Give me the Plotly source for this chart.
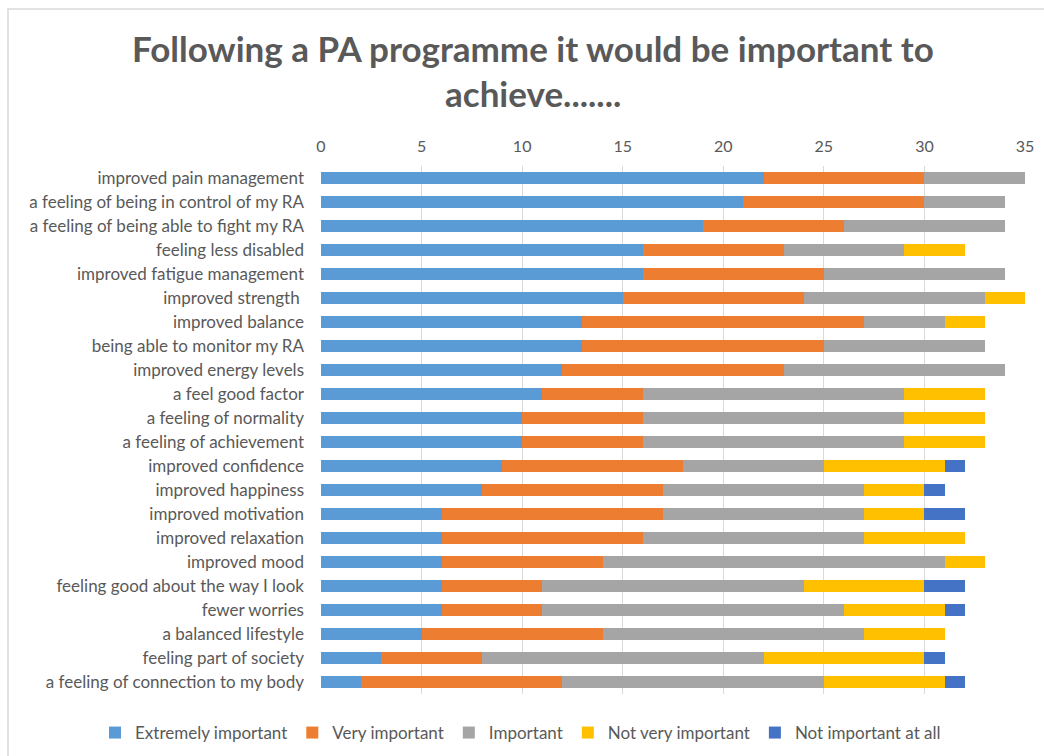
import plotly.graph_objects as go

categories = [
    "improved pain management",
    "a feeling of being in control of my RA",
    "a feeling of being able to fight my RA",
    "feeling less disabled",
    "improved fatigue management",
    "improved strength ",
    "improved balance",
    "being able to monitor my RA",
    "improved energy levels",
    "a feel good factor",
    "a feeling of normality",
    "a feeling of achievement",
    "improved confidence",
    "improved happiness",
    "improved motivation",
    "improved relaxation",
    "improved mood",
    "feeling good about the way I look",
    "fewer worries",
    "a balanced lifestyle",
    "feeling part of society",
    "a feeling of connection to my body",
]

extremely_important = [22, 21, 19, 16, 16, 15, 13, 13, 12, 11, 10, 10, 9, 8, 6, 6, 6, 6, 6, 5, 3, 2]
very_important      = [8, 9, 7, 7, 9, 9, 14, 12, 11, 5, 6, 6, 9, 9, 11, 10, 8, 5, 5, 9, 5, 10]
important           = [5, 4, 8, 6, 9, 9, 4, 8, 11, 13, 13, 13, 7, 10, 10, 11, 17, 13, 15, 13, 14, 13]
not_very_important  = [0, 0, 0, 3, 0, 2, 2, 0, 0, 4, 4, 4, 6, 3, 3, 5, 2, 6, 5, 4, 8, 6]
not_important_at_all = [0, 0, 0, 0, 0, 0, 0, 0, 0, 0, 0, 0, 1, 1, 2, 0, 0, 2, 1, 0, 1, 1]

series_names = ["Extremely important", "Very important", "Important",
                "Not very important", "Not important at all"]
series_values = [extremely_important, very_important, important,
                 not_very_important, not_important_at_all]
colors = ["#5B9BD5", "#ED7D31", "#A5A5A5", "#FFC000", "#4472C4"]

x_ticks = [0, 5, 10, 15, 20, 25, 30, 35]

title_lines = ["Following a PA programme it would be important to", "achieve......."]

fig = go.Figure()
for name, vals, col in zip(series_names, series_values, colors):
    fig.add_trace(go.Bar(
        y=categories, x=vals, name=name, orientation="h",
        marker=dict(color=col, line=dict(width=0)),
    ))

FONT = "Lato"
GRAY = "#595959"
L, R, T, B = 321, 1025, 166, 694
PW, PH = R - L, B - T

def px_x(p):
    return (p - L) / PW

def px_y(p):
    return (B - p) / PH

fig.update_layout(
    width=1044, height=756,
    barmode="stack", bargap=0.5,
    paper_bgcolor="white", plot_bgcolor="white",
    margin=dict(l=L, r=1044 - R, t=T, b=756 - B, autoexpand=False),
    font=dict(family=FONT, color=GRAY, size=17),
    xaxis=dict(
        side="top", range=[0, 35], tickvals=x_ticks,
        showgrid=True, gridcolor="#D9D9D9", gridwidth=1,
        zeroline=False, showline=False, ticks="",
        ticklabelstandoff=10,
        tickfont=dict(size=16, color=GRAY),
        fixedrange=True,
    ),
    yaxis=dict(
        autorange="reversed", showgrid=False, zeroline=False,
        showline=False, ticks="", ticklabelstandoff=16,
        tickfont=dict(size=17, color=GRAY),
    ),
    legend=dict(
        orientation="h", xref="paper", x=px_x(95), xanchor="left",
        y=px_y(733), yanchor="middle",
        font=dict(size=17, color=GRAY),
        traceorder="normal", itemwidth=30,
    ),
    showlegend=True,
)

fig.add_annotation(
    text="<b>" + title_lines[0] + "</b>", xref="paper", yref="paper",
    x=px_x(533), y=px_y(48), xanchor="center", yanchor="middle",
    showarrow=False, font=dict(family=FONT, size=35, color=GRAY),
)
fig.add_annotation(
    text="<b>" + title_lines[1] + "</b>", xref="paper", yref="paper",
    x=px_x(533), y=px_y(93), xanchor="center", yanchor="middle",
    showarrow=False, font=dict(family=FONT, size=35, color=GRAY),
)

fig.add_shape(
    type="rect", xref="paper", yref="paper",
    x0=px_x(8), x1=px_x(1060),
    y0=px_y(770), y1=px_y(9),
    line=dict(color="#D9D9D9", width=1.5), fillcolor="rgba(0,0,0,0)",
    layer="below",
)

fig.write_html("out.html")
